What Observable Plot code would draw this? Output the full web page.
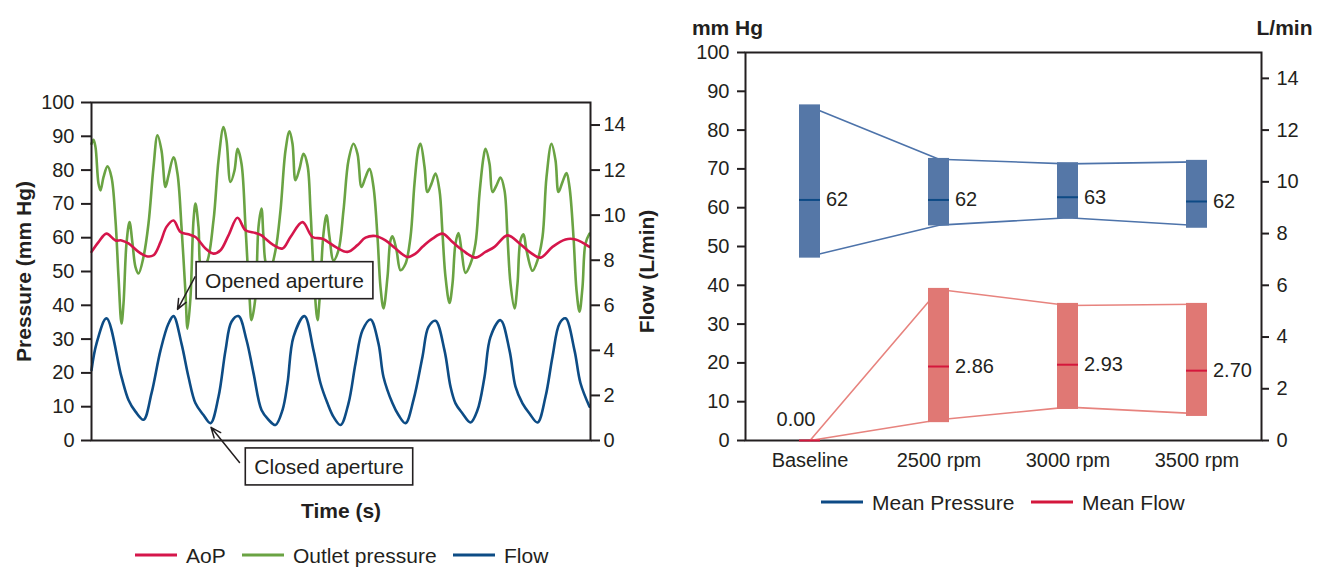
<!DOCTYPE html>
<html><head><meta charset="utf-8">
<script src="https://cdn.jsdelivr.net/npm/d3@7"></script>
<script src="https://cdn.jsdelivr.net/npm/@observablehq/plot@0.6"></script>
<style>
body{margin:0;background:#fff;}
#wrap{position:relative;width:1325px;height:569px;overflow:hidden;font-family:"Liberation Sans",Arial,Helvetica,sans-serif;color:#231f20;background:#fff;}
.leg{position:absolute;display:flex;align-items:center;font-size:21px;white-space:nowrap;line-height:1;transform:translateY(-50%);}
.leg .sw{display:inline-block;width:42px;height:3px;margin-right:9px;}
</style></head><body><div id="wrap"></div>
<script>
// ---------- LEFT PANEL DATA ----------
const timeAoP = [0.00,0.07,0.15,0.24,0.30,0.37,0.47,0.55,0.62,0.69,0.75,0.82,0.89,0.97,1.04,1.14,1.22,1.29,1.37,1.46,1.54,1.64,1.70,1.74,1.82,1.91,1.99,2.11,2.21,2.31,2.44,2.56,2.66,2.74,2.84,2.94,3.04,3.16,3.24,3.31,3.41,3.51,3.61,3.71,3.84,3.94,4.03,4.16,4.28,4.38,4.49,4.61,4.74,4.84,4.98];
const aop = [55.8,58.7,61.2,59.2,59.2,58.3,55.8,54.5,54.8,58.7,63.2,65.1,61.7,61.0,60.2,56.8,55.3,56.3,60.7,65.9,62.2,61.4,60.7,59.7,57.8,56.8,60.2,64.6,60.2,59.7,57.3,55.8,57.8,60.0,60.5,59.2,56.8,54.3,55.3,57.3,59.7,61.2,58.7,56.3,54.1,55.8,57.3,60.7,58.3,55.8,54.1,57.3,59.5,59.5,57.3];

const timeOutlet = [0.00,0.02,0.04,0.07,0.09,0.12,0.16,0.20,0.24,0.27,0.30,0.32,0.35,0.38,0.41,0.44,0.47,0.52,0.57,0.62,0.66,0.70,0.74,0.77,0.82,0.86,0.90,0.94,0.96,0.99,1.02,1.04,1.07,1.10,1.15,1.22,1.27,1.32,1.35,1.39,1.43,1.46,1.50,1.54,1.58,1.60,1.64,1.67,1.70,1.72,1.75,1.79,1.84,1.89,1.94,1.98,2.01,2.04,2.08,2.12,2.16,2.19,2.22,2.26,2.28,2.32,2.35,2.38,2.42,2.47,2.52,2.57,2.62,2.66,2.70,2.74,2.78,2.82,2.86,2.89,2.92,2.96,2.99,3.01,3.05,3.09,3.14,3.19,3.23,3.27,3.29,3.33,3.36,3.40,3.44,3.48,3.51,3.54,3.58,3.61,3.64,3.67,3.70,3.74,3.79,3.84,3.88,3.92,3.94,3.98,4.01,4.05,4.09,4.13,4.16,4.19,4.23,4.26,4.29,4.32,4.35,4.41,4.46,4.51,4.55,4.60,4.64,4.67,4.71,4.75,4.78,4.82,4.85,4.88,4.91,4.94,4.98];
const outlet = [87.8,89.0,86.8,76.0,74.0,77.9,81.1,77.9,65.1,48.4,34.6,40.5,58.3,64.6,58.3,51.3,49.4,54.3,64.2,80.9,90.3,85.8,75.0,78.4,83.8,78.9,63.2,43.5,33.1,42.5,65.1,70.1,63.2,51.3,52.5,65.1,82.9,92.7,88.8,76.5,79.9,86.3,81.9,63.2,42.5,35.6,42.5,63.2,68.6,60.2,52.0,51.3,56.3,68.1,85.8,91.5,87.8,77.0,80.4,84.8,81.4,68.1,50.4,35.6,41.5,61.2,66.6,60.2,53.3,56.3,68.1,82.9,87.8,84.8,75.0,77.9,80.4,75.0,60.2,45.4,39.1,48.4,59.2,60.4,56.3,50.4,52.3,60.2,76.0,86.5,87.8,81.0,73.5,76.0,79.0,74.0,61.2,48.4,40.7,46.4,58.3,61.4,56.3,49.6,52.3,58.3,73.0,83.8,86.3,81.9,73.5,75.5,77.8,74.0,60.2,46.4,39.1,46.4,59.2,61.0,56.3,50.2,53.3,60.2,77.9,87.8,82.9,73.5,76.5,79.1,75.0,60.2,44.5,38.1,45.4,58.3,61.2];

const timeFlow = [0.00,0.05,0.15,0.30,0.37,0.44,0.52,0.60,0.69,0.77,0.82,0.90,0.97,1.04,1.12,1.19,1.27,1.34,1.40,1.47,1.55,1.62,1.70,1.77,1.84,1.91,1.96,2.02,2.13,2.22,2.29,2.36,2.42,2.49,2.57,2.64,2.71,2.79,2.87,2.92,3.01,3.07,3.14,3.22,3.31,3.37,3.44,3.53,3.59,3.64,3.71,3.79,3.86,3.93,3.99,4.09,4.18,4.24,4.31,4.38,4.46,4.54,4.61,4.68,4.74,4.83,4.89,4.98];
const flowLmin = [3.12,4.30,5.42,2.82,1.80,1.28,0.92,2.09,4.00,5.19,5.52,4.30,2.82,1.65,1.13,0.77,1.94,4.00,5.27,5.52,4.46,2.99,1.35,0.92,0.69,1.35,2.54,4.60,5.52,4.00,2.54,1.65,1.05,0.69,1.65,3.42,4.89,5.37,4.30,2.82,1.65,1.13,0.77,1.80,3.72,5.04,5.31,4.00,2.39,1.65,1.20,0.80,1.35,2.82,4.60,5.34,4.00,2.39,1.65,1.20,0.80,1.94,3.72,5.19,5.42,4.00,2.54,1.50];

const pressureTicks = [0,10,20,30,40,50,60,70,80,90,100];
const flowTicks = [0,2,4,6,8,10,12,14];

const annotations = [
  {label:"Opened aperture", t:1.93, v:47.2, fromT:1.035, fromV:48.4, toT:0.86, toV:38.8},
  {label:"Closed aperture", t:2.375, v:-7.9, fromT:1.48, fromV:-6.5, toT:1.195, toV:3.9}
];

// ---------- RIGHT PANEL DATA ----------
const categories = ["Baseline","2500 rpm","3000 rpm","3500 rpm"];
const pressureMean = [62.0, 62.0, 62.7, 61.6];
const pressureBoxHigh = [86.5, 72.7, 71.6, 72.2];
const pressureBoxLow = [47.0, 55.3, 57.1, 54.7];
const pressureRangeHigh = [86.0, 72.5, 71.3, 71.8];
const pressureRangeLow = [47.5, 55.5, 57.4, 55.4];
const flowMean = [0.00, 2.86, 2.93, 2.70];
const flowBoxHigh = [0.00, 5.88, 5.30, 5.30];
const flowBoxLow = [0.00, 0.69, 1.20, 0.93];
const flowRangeHigh = [0.00, 5.84, 5.22, 5.27];
const flowRangeLow = [0.00, 0.80, 1.29, 1.04];

// ---------- helpers ----------
const toP = f => f * 100 / 15;   // L/min -> mm Hg axis units (15 L/min = 100 mm Hg)
const toF = p => p * 15 / 100;
const INK = "#231f20";
const FONT = '"Liberation Sans", Arial, Helvetica, sans-serif';
const C = {aop:"#d5164b", outlet:"#6aa343", flow:"#0d4c85",
           pBox:"#5577a7", pLine:"#4d73aa", pMean:"#0d4a85",
           fBox:"#e07874", fLine:"#e7837e", fMean:"#d4173c"};

const aopData = timeAoP.map((t,i)=>({t, v:aop[i]}));
const outletData = timeOutlet.map((t,i)=>({t, v:outlet[i]}));
const flowData = timeFlow.map((t,i)=>({t, v:toP(flowLmin[i])}));

const wrap = document.getElementById("wrap");

// ---------- LEFT PLOT ----------
const left = Plot.plot({
  width: 660, height: 569,
  marginLeft: 91, marginRight: 70, marginTop: 102, marginBottom: 129,
  style: {fontSize:"20px", fontFamily: FONT, color: INK, background:"transparent", overflow:"visible"},
  x: {domain:[0,4.99], axis:null},
  y: {domain:[0,100], nice:false},
  marks: [
    Plot.line(outletData, {x:"t", y:"v", stroke:C.outlet, strokeWidth:2.6, curve:"catmull-rom"}),
    Plot.line(aopData, {x:"t", y:"v", stroke:C.aop, strokeWidth:2.6, curve:"catmull-rom"}),
    Plot.line(flowData, {x:"t", y:"v", stroke:C.flow, strokeWidth:2.6, curve:"catmull-rom"}),
    Plot.frame({stroke:INK, strokeWidth:2}),
    Plot.axisY({anchor:"left", ticks:pressureTicks, tickSize:10, tickPadding:7, strokeWidth:2, label:null}),
    Plot.axisY({anchor:"right", ticks:flowTicks.map(toP), tickFormat:d=>String(Math.round(toF(d))), tickSize:9, tickPadding:4, strokeWidth:2, label:null}),
    Plot.arrow(annotations, {x1:"fromT", y1:"fromV", x2:"toT", y2:"toV", stroke:INK, strokeWidth:1.5, headLength:11, headAngle:45}),
    Plot.text(annotations, {x:"t", y:"v", text:"label", fontSize:21, fill:INK}),
    Plot.text(["Pressure (mm Hg)"], {text:d=>d, frameAnchor:"left", textAnchor:"middle", rotate:-90, dx:-67, fontWeight:"bold", fontSize:21, fill:INK}),
    Plot.text(["Flow (L/min)"], {text:d=>d, frameAnchor:"right", textAnchor:"middle", rotate:-90, dx:57, fontWeight:"bold", fontSize:21, fill:INK}),
    Plot.text(["Time (s)"], {text:d=>d, frameAnchor:"bottom", dy:77, fontWeight:"bold", fontSize:21, fill:INK})
  ]
});
left.style.position = "absolute"; left.style.left = "0px"; left.style.top = "0px";
wrap.appendChild(left);

// boxes behind annotation labels
const annLabels = new Set(annotations.map(a=>a.label));
left.querySelectorAll("text").forEach(t => {
  if (!annLabels.has(t.textContent)) return;
  const b = t.getBBox();
  const r = document.createElementNS("http://www.w3.org/2000/svg","rect");
  r.setAttribute("x", b.x - 9); r.setAttribute("y", b.y - 7);
  r.setAttribute("width", b.width + 18); r.setAttribute("height", b.height + 14);
  if (t.getAttribute("transform")) r.setAttribute("transform", t.getAttribute("transform"));
  r.setAttribute("fill", "#fff"); r.setAttribute("stroke", INK); r.setAttribute("stroke-width", "1.6");
  t.parentNode.insertBefore(r, t);
});

// ---------- RIGHT PLOT ----------
const rows = categories.map((c,i)=>({
  c, pm:pressureMean[i], ph:pressureBoxHigh[i], pl:pressureBoxLow[i], prh:pressureRangeHigh[i], prl:pressureRangeLow[i],
  fm:toP(flowMean[i]), fh:toP(flowBoxHigh[i]), fl:toP(flowBoxLow[i]), frh:toP(flowRangeHigh[i]), frl:toP(flowRangeLow[i]),
  fmLabel:d3.format(".2f")(flowMean[i]), pmLabel:d3.format(".0f")(pressureMean[i])
}));
const right = Plot.plot({
  width: 645, height: 569,
  marginLeft: 65, marginRight: 64, marginTop: 52, marginBottom: 129,
  style: {fontSize:"20px", fontFamily: FONT, color: INK, background:"transparent", overflow:"visible"},
  x: {type:"band", domain:categories, padding:0},
  y: {domain:[0,100], nice:false},
  marks: [
    Plot.frame({stroke:INK, strokeWidth:2}),
    Plot.axisY({anchor:"left", ticks:pressureTicks, tickSize:8, tickPadding:8, strokeWidth:2, label:null}),
    Plot.axisY({anchor:"right", ticks:flowTicks.map(toP), tickFormat:d=>String(Math.round(toF(d))), tickSize:7, tickPadding:8, strokeWidth:2, label:null}),
    Plot.axisX({tickSize:0, tickPadding:12, label:null}),
    Plot.line(rows, {x:"c", y:"prh", stroke:C.pLine, strokeWidth:1.6}),
    Plot.line(rows, {x:"c", y:"prl", stroke:C.pLine, strokeWidth:1.6}),
    Plot.line(rows, {x:"c", y:"frh", stroke:C.fLine, strokeWidth:1.6}),
    Plot.line(rows, {x:"c", y:"frl", stroke:C.fLine, strokeWidth:1.6}),
    Plot.barY(rows, {x:"c", y1:"pl", y2:"ph", fill:C.pBox, insetLeft:54, insetRight:54}),
    Plot.barY(rows, {x:"c", y1:"fl", y2:"fh", fill:C.fBox, insetLeft:54, insetRight:54}),
    Plot.tickY(rows, {x:"c", y:"pm", stroke:C.pMean, strokeWidth:2, insetLeft:54, insetRight:54}),
    Plot.tickY(rows, {x:"c", y:"fm", stroke:C.fMean, strokeWidth:2, insetLeft:54, insetRight:54}),
    Plot.text(rows, {x:"c", y:"pm", text:"pmLabel", dx:16, textAnchor:"start", fontSize:20, fill:INK}),
    Plot.text(rows.filter(r=>r.fm>0), {x:"c", y:"fm", text:"fmLabel", dx:16, textAnchor:"start", fontSize:20, fill:INK}),
    Plot.text(rows.filter(r=>r.fm===0), {x:"c", y:"fm", text:"fmLabel", dx:-14, dy:-21, textAnchor:"middle", fontSize:20, fill:INK}),
    Plot.text(["mm Hg"], {text:d=>d, frameAnchor:"top-left", textAnchor:"middle", dx:-18, dy:-32, fontWeight:"bold", fontSize:21, fill:INK}),
    Plot.text(["L/min"], {text:d=>d, frameAnchor:"top-right", textAnchor:"middle", dx:23, dy:-32, fontWeight:"bold", fontSize:21, fill:INK})
  ]
});
right.style.position = "absolute"; right.style.left = "680px"; right.style.top = "0px";
wrap.appendChild(right);

// ---------- LEGENDS ----------
function legendItem(x, y, color, label) {
  const d = document.createElement("div");
  d.className = "leg";
  d.style.left = x + "px"; d.style.top = y + "px";
  d.innerHTML = `<span class="sw" style="background:${color}"></span><span>${label}</span>`;
  wrap.appendChild(d);
}
legendItem(135, 555, C.aop, "AoP");
legendItem(242, 555, C.outlet, "Outlet pressure");
legendItem(453, 555, C.flow, "Flow");
legendItem(821, 502, C.pMean, "Mean Pressure");
legendItem(1031, 502, C.fMean, "Mean Flow");
</script></body></html>
